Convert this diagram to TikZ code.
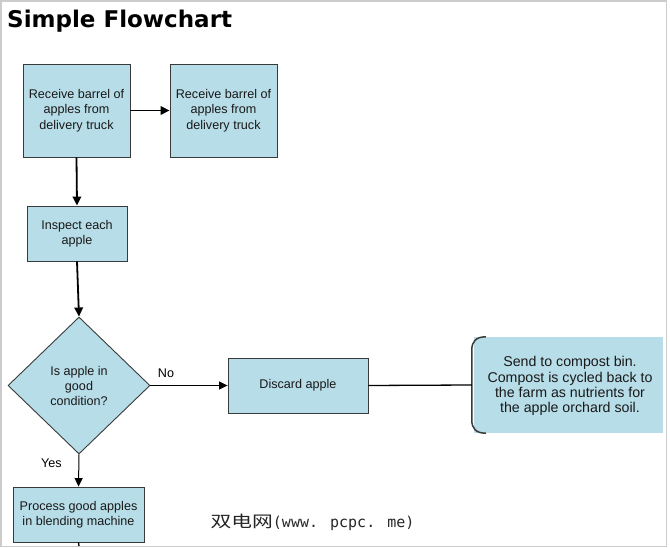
\documentclass[tikz,border=0pt]{standalone}
\usepackage{fontspec}
\setmainfont{Liberation Sans}
\newfontfamily\titlefont{DejaVu Sans}
\newfontfamily\cjkfont{Noto Sans CJK SC}
\newfontfamily\wmmono{DejaVu Sans Mono}
\usetikzlibrary{shapes.geometric,arrows.meta,calc}
\definecolor{boxfill}{HTML}{B7DDE8}
\definecolor{boxborder}{HTML}{3A3A3A}
\definecolor{framegray}{HTML}{CCCCCC}
\tikzset{
  flowbox/.style={draw=boxborder, fill=boxfill, line width=0.9pt, align=center,
    inner sep=0pt, text=black!90, font=\fontsize{12.6}{15.5}\selectfont},
  decision/.style={diamond, draw=boxborder, fill=boxfill, line width=0.9pt, align=center,
    inner sep=0pt, text=black!90, font=\fontsize{12.6}{15}\selectfont},
  heavyarrow/.style={line width=1.8pt, -{Triangle[length=9pt,width=8.5pt]}},
  lightarrow/.style={line width=1pt, -{Triangle[length=8.5pt,width=8pt]}},
  lightline/.style={line width=1.3pt},
  edgelabel/.style={font=\fontsize{12.6}{15}\selectfont, inner sep=0pt},
}
\begin{document}
\begin{tikzpicture}[x=1pt,y=-1pt]
\useasboundingbox (0,0) rectangle (670,548);
\fill[white] (0,0) rectangle (670,548);
\draw[framegray, line width=1.6pt] (0.8,0.8) rectangle (666.5,546.5);

\node[anchor=base west, inner sep=0pt, font=\titlefont\bfseries\fontsize{23}{23}\selectfont] (title) at (7,28) {Simple Flowchart};

\node[flowbox, minimum width=107pt, minimum height=93pt] (recv1) at (76.5,110.5) {Receive barrel of\\apples from\\delivery truck};
\node[flowbox, minimum width=107pt, minimum height=93pt] (recv2) at (223.5,110.5) {Receive barrel of\\apples from\\delivery truck};
\node[flowbox, minimum width=100pt, minimum height=55pt] (inspect) at (77,233.5) {Inspect each\\apple};
\node[decision, minimum width=142pt, minimum height=137pt] (cond) at (79,385.5) {Is apple in\\good\\condition?};
\node[flowbox, minimum width=140pt, minimum height=55pt] (discard) at (298,385.5) {Discard apple};
\node[flowbox, minimum width=131pt, minimum height=55pt] (process) at (78.5,514.5) {Process good apples\\in blending machine};

\node[fill=boxfill, minimum width=189pt, minimum height=96pt, inner sep=0pt] (callout) at (568.5,385) {};
\node[align=center, inner sep=0pt, text=black!90, font=\fontsize{14.2}{15.2}\selectfont] (callouttext) at (570,386) {Send to compost bin.\\Compost is cycled back to\\the farm as nutrients for\\the apple orchard soil.};
\coordinate (bk) at ($(callout.west)+(-2,0)$);
\draw[line width=1.5pt, boxborder] ($(callout.north west)+(12,0)$) .. controls ($(callout.north west)+(2,0)$) and ($(callout.north west)+(-2,5)$) .. ($(callout.north west)+(-2,13)$)
  -- ($(callout.south west)+(-2,-13)$) .. controls ($(callout.south west)+(-2,-5)$) and ($(callout.south west)+(2,0)$) .. ($(callout.south west)+(12,0)$);

\draw[heavyarrow] (recv1.east) -- (recv2.west);
\draw[heavyarrow] (recv1.south) -- (inspect.north);
\draw[heavyarrow] (inspect.south) -- (cond.north);
\draw[lightarrow] (cond.east) -- (discard.west);
\draw[lightarrow] (cond.south) -- (process.north);
\draw[lightline] (discard.east) -- (bk);
\coordinate (pend) at (79,546);
\draw[lightline] (process.south) -- (pend);

\node[edgelabel] (nolabel) at (166,373) {No};
\node[edgelabel] (yeslabel) at (51.5,463) {Yes};

\node[inner sep=0pt, text=black!85] (wm) at (312.5,522) {\scalebox{1.3}[1]{\cjkfont\fontsize{16}{16}\selectfont 双电网}{\wmmono\fontsize{15}{15}\selectfont (www. pcpc. me)}};
\end{tikzpicture}
\end{document}
